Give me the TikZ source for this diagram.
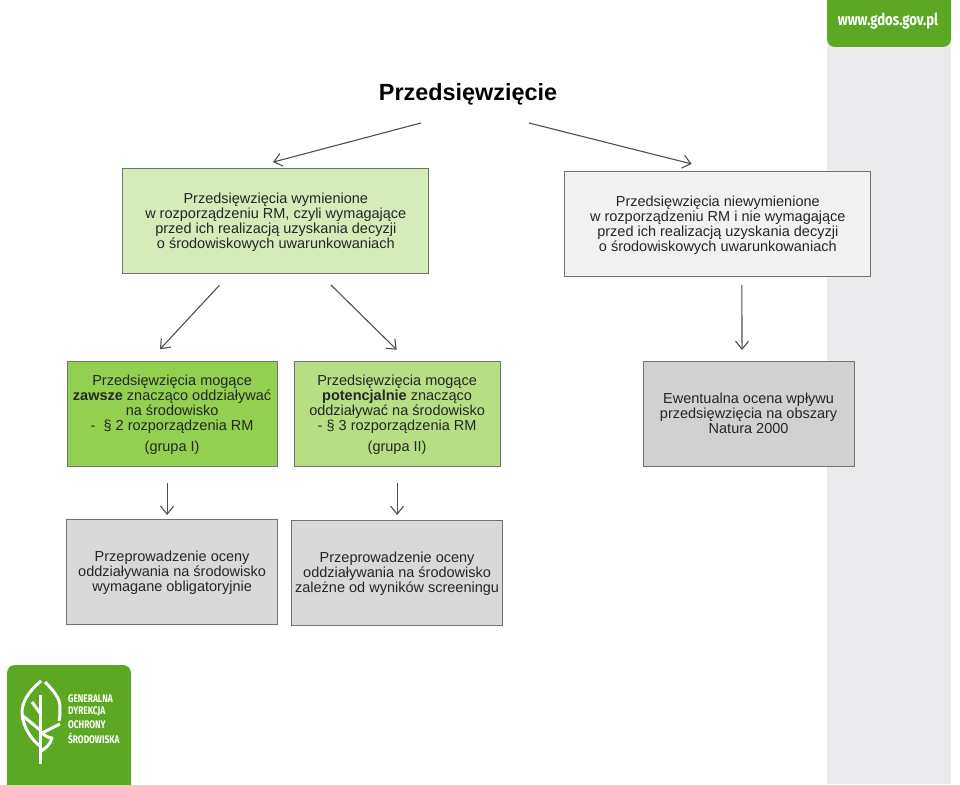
\documentclass[tikz,border=0pt]{standalone}
\usepackage{fontspec}
\setmainfont{Liberation Sans}
\newfontfamily\logofont{Fira Sans}
\usetikzlibrary{positioning,arrows.meta}

\definecolor{gdosgreen}{HTML}{5CA823}
\definecolor{sidegray}{HTML}{EBEBED}
\definecolor{framegray}{HTML}{6F756C}
\definecolor{linegray}{HTML}{4F4F4F}
\definecolor{palegreen}{HTML}{D5EBB8}
\definecolor{midgreen}{HTML}{B8DE85}
\definecolor{stronggreen}{HTML}{92D050}

\tikzset{
	boxshape/.style={draw=framegray, line width=0.9pt, outer sep=0pt, inner sep=0pt, align=center, minimum height=105pt, minimum width=211pt, text=black!85, text depth=0pt, font=\fontsize{14.5}{15}\selectfont},
	arrowline/.style={draw=linegray, line width=1.1pt, -{Straight Barb[length=8pt,width=13pt]}},
	logotext/.style={text=white, inner sep=0pt, anchor=west, xscale=0.76, font=\logofont\bfseries\fontsize{11}{11}\selectfont},
}

\begin{document}
\begin{tikzpicture}[x=1pt, y=-1pt]
	\useasboundingbox (0,0) rectangle (960,784);
	% side strip and the two green tabs
	\fill [sidegray] (827,0) rectangle (951,784);
	\fill [gdosgreen, rounded corners=8pt] (827,-12) rectangle (951,47);
	\fill [gdosgreen, rounded corners=8pt] (7,665) rectangle (131,800);
	\node [text=white, xscale=0.8, font=\logofont\bfseries\fontsize{16.5}{16.5}\selectfont] (www) at (888,21) {www.gdos.gov.pl};
	
	% leaf
	\draw [white, line width=3pt, line join=round] (41,681) .. controls (28,692) and (22,702) .. (22,713) .. controls (23,728) and (32,740) .. (40,746);
	\draw [white, line width=3pt, line join=round] (45,682) .. controls (53,690) and (60,698) .. (60,707) .. controls (60,712) and (60,717) .. (59,721);
	\draw [white, line width=3pt] (40,695) -- (40,764);
	\draw [white, line width=3pt] (32,702) -- (40,713);
	\draw [white, line width=3pt] (23,716) -- (40,730);
	\draw [white, line width=3pt, line join=round] (60,724) -- (42,733) .. controls (47,738) and (52,738) .. (52,738) .. controls (50,745) and (46,748) .. (41,751);
	\node [logotext] (gen) at (68,699) {GENERALNA};
	\node [logotext] (dyr) at (68,712) {DYREKCJA};
	\node [logotext] (och) at (68,725) {OCHRONY};
	\node [logotext] (sro) at (68,738) {ŚRODOWISKA};
	
	\node [minimum height=28pt, inner sep=0pt, outer sep=0pt, font=\bfseries\fontsize{23.4}{24}\selectfont] (title) at (468,94) {Przedsięwzięcie};
	\node [boxshape, fill=palegreen, minimum width=306pt] (wym) at (275.8,220.5) {Przedsięwzięcia wymienione\\w rozporządzeniu RM, czyli wymagające\\przed ich realizacją uzyskania decyzji\\o środowiskowych uwarunkowaniach};
	\node [boxshape, fill=black!5, minimum width=306pt] (niewym) at (717.8,223.5) {Przedsięwzięcia niewymienione\\w rozporządzeniu RM i nie wymagające\\przed ich realizacją uzyskania decyzji\\o środowiskowych uwarunkowaniach};
	\node [boxshape, fill=stronggreen, minimum width=210pt, below=88pt of wym.south, xshift=-103.7pt] (group1) {Przedsięwzięcia mogące\\\textbf{zawsze} znacząco oddziaływać\\na środowisko\\-\ \ § 2 rozporządzenia RM\\[6pt](grupa I)};
	\node [boxshape, fill=midgreen, minimum width=206pt, right=17pt of group1] (group2) {Przedsięwzięcia mogące\\\textbf{potencjalnie} znacząco\\oddziaływać na środowisko\\- § 3 rozporządzenia RM\\[6pt](grupa II)};
	\node [boxshape, fill=black!18, right=143pt of group2] (natura) {Ewentualna ocena wpływu\\przedsięwzięcia na obszary\\Natura 2000};
	\node [boxshape, fill=black!15, below=53pt of group1] (obligo) {Przeprowadzenie oceny\\oddziaływania na środowisko\\wymagane obligatoryjnie};
	\node [boxshape, fill=black!15, below=54pt of group2] (screen) {Przeprowadzenie oceny\\oddziaływania na środowisko\\zależne od wyników screeningu};
	
	\draw [arrowline, shorten <=58.5pt, shorten >=23pt] ([xshift=9.5pt]title.south) -- ([xshift=-25pt]wym.north);
	\draw [arrowline, shorten <=61.5pt, shorten >=29pt] ([xshift=1.3pt]title.south) -- ([xshift=2pt]niewym.north);
	\draw [arrowline, shorten <=17pt, shorten >=16pt] ([xshift=-45pt]wym.south) -- ([xshift=-23pt]group1.north);
	\draw [arrowline, shorten <=17pt, shorten >=16pt] ([xshift=43pt]wym.south) -- ([xshift=11pt]group2.north);
	\draw [arrowline, shorten <=9pt, shorten >=11pt] ([xshift=24pt]niewym.south) -- ([xshift=-6.5pt]natura.north);
	\draw [arrowline, shorten <=17pt, shorten >=4pt] ([xshift=-5pt]group1.south) -- ([xshift=-5pt]obligo.north);
	\draw [arrowline, shorten <=17pt, shorten >=5pt] (group2.south) -- (screen.north);
\end{tikzpicture}
\end{document}
